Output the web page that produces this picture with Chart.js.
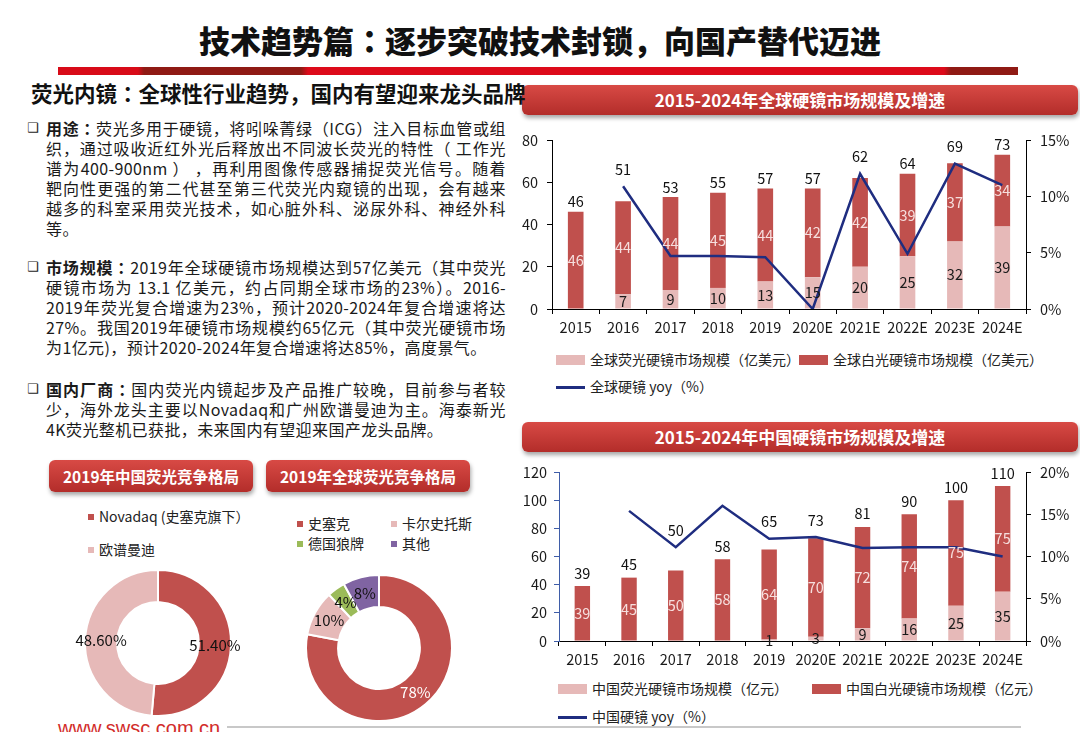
<!DOCTYPE html>
<html>
<head>
<meta charset="utf-8">
<script src="https://cdn.jsdelivr.net/npm/chart.js@4.4.1/dist/chart.umd.min.js"></script>
<style>
body { margin:0; width:1080px; height:732px; position:relative; overflow:hidden; background:#fff;
       font-family:"Noto Sans CJK SC","Noto Sans",sans-serif; color:#1a1a1a; }
.abs { position:absolute; }
.c { font-family:"Noto Sans CJK JP"; }
#title { left:0; top:20px; width:1080px; text-align:center; font-size:31px; font-weight:900; line-height:40px; color:#111; }
#redbar { left:58px; top:67px; width:960px; height:8px;
          background:linear-gradient(to right,#d80b18 0px,#d80b18 80px,#8f1a14 86px,#8f1a14 243px,#dd0a1a 250px,#dd0a1a 886px,#8f1a14 893px,#8f1a14 960px); }
#subtitle { left:31px; top:80px; font-size:21.5px; font-weight:bold; line-height:26px; color:#111; white-space:nowrap; z-index:2; }
.banner { position:absolute; color:#fff; font-weight:bold; text-align:center; border-radius:6px;
          background:linear-gradient(to bottom,#d84a45,#b32d2a); box-shadow:1px 3px 4px rgba(0,0,0,0.35); white-space:nowrap; }
.para { position:absolute; left:46px; font-size:16px; letter-spacing:0.4px; }
.ln { width:460px; height:20px; line-height:20px; text-align:justify; text-align-last:justify; }
.ln.last { text-align-last:left; }
.bullet { position:absolute; left:27px; font-family:"DejaVu Sans"; font-size:13px; font-weight:bold; line-height:20px; }
.legend { position:absolute; font-size:14px; line-height:18px; white-space:nowrap; color:#222; }
.legend .box { display:inline-block; width:29px; height:10px; vertical-align:middle; margin-right:5px; position:relative; top:-1px; }
.legend .ln2 { display:inline-block; width:29px; height:3px; vertical-align:middle; margin-right:5px; position:relative; top:-1px; }
.pleg { position:absolute; font-size:14px; line-height:18px; white-space:nowrap; color:#222; }
.pleg .sq { display:inline-block; width:6px; height:6px; vertical-align:middle; margin-right:5px; position:relative; top:-1px; }
canvas { position:absolute; }
</style>
</head>
<body>
<div id="title" class="abs">技术趋势篇<span class="c">：</span>逐步突破技术封锁，向国产替代迈进</div>
<div id="redbar" class="abs"></div>
<div id="subtitle" class="abs">荧光内镜<span class="c">：</span>全球性行业趋势，国内有望迎来龙头品牌</div>

<div class="bullet" style="top:118px">❑</div>
<div class="para" style="top:118px">
  <div class="ln"><b>用途<span class="c">：</span></b>荧光多用于硬镜，将吲哚菁绿（ICG）注入目标血管或组</div>
  <div class="ln">织，通过吸收近红外光后释放出不同波长荧光的特性（ 工作光</div>
  <div class="ln">谱为400-900nm ） ，再利用图像传感器捕捉荧光信号。随着</div>
  <div class="ln">靶向性更强的第二代甚至第三代荧光内窥镜的出现，会有越来</div>
  <div class="ln">越多的科室采用荧光技术，如心脏外科、泌尿外科、神经外科</div>
  <div class="ln last">等。</div>
</div>
<div class="bullet" style="top:257px">❑</div>
<div class="para" style="top:257px">
  <div class="ln"><b>市场规模<span class="c">：</span></b>2019年全球硬镜市场规模达到57亿美元（其中荧光</div>
  <div class="ln">硬镜市场为 13.1 亿美元，约占同期全球市场的23%）。2016-</div>
  <div class="ln">2019年荧光复合增速为23%，预计2020-2024年复合增速将达</div>
  <div class="ln">27%。我国2019年硬镜市场规模约65亿元（其中荧光硬镜市场</div>
  <div class="ln last">为1亿元)，预计2020-2024年复合增速将达85%，高度景气。</div>
</div>
<div class="bullet" style="top:379px">❑</div>
<div class="para" style="top:379px">
  <div class="ln"><b>国内厂商<span class="c">：</span></b>国内荧光内镜起步及产品推广较晚，目前参与者较</div>
  <div class="ln">少，海外龙头主要以Novadaq和广州欧谱曼迪为主。海泰新光</div>
  <div class="ln last">4K荧光整机已获批，未来国内有望迎来国产龙头品牌。</div>
</div>

<div class="banner" style="left:522px;top:85px;width:556px;height:30px;line-height:30px;font-size:17px">2015-2024年全球硬镜市场规模及增速</div>
<div class="banner" style="left:522px;top:422px;width:556px;height:30px;line-height:30px;font-size:17px">2015-2024年中国硬镜市场规模及增速</div>
<div class="banner" style="left:49px;top:460px;width:204px;height:32px;line-height:32px;font-size:15.5px">2019年中国荧光竞争格局</div>
<div class="banner" style="left:266px;top:460px;width:204px;height:32px;line-height:32px;font-size:15.5px">2019年全球荧光竞争格局</div>

<canvas id="globalChart" width="570" height="222" style="left:510px;top:118px"></canvas>
<canvas id="chinaChart" width="570" height="222" style="left:510px;top:450px"></canvas>
<canvas id="cnPie" width="240" height="148" style="left:38px;top:569px"></canvas>
<canvas id="globalPie" width="240" height="148" style="left:259px;top:574px"></canvas>

<div id="legGlobal"></div>
<div id="legChina"></div>
<div id="legCnPie"></div>
<div id="legGlobalPie"></div>

<div class="abs" style="left:227px;top:726px;width:794px;height:2px;background:#c8c8c8"></div>
<div class="abs" style="left:58px;top:718px;font-family:'Liberation Sans';font-size:20px;line-height:20px;color:#d22d2b">www.swsc.com.cn</div>

<script>
const years = ['2015', '2016', '2017', '2018', '2019', '2020E', '2021E', '2022E', '2023E', '2024E'];

// global market, 亿美元
const globalFluor = [null, 7, 9, 10, 13, 15, 20, 25, 32, 39];
const globalWhite = [46, 44, 44, 45, 44, 42, 42, 39, 37, 34];
const globalTotal = [46, 51, 53, 55, 57, 57, 62, 64, 69, 73];
const globalYoy = [null, 10.9, 4.7, 4.7, 4.6, 0.0, 12.0, 4.9, 12.9, 11.0];
const globalNames = ['全球荧光硬镜市场规模（亿美元）', '全球白光硬镜市场规模（亿美元）', '全球硬镜 yoy（%）'];

// china market, 亿元
const chinaFluor = [0, 0, 0, 0, 1, 3, 9, 16, 25, 35];
const chinaWhite = [39, 45, 50, 58, 64, 70, 72, 74, 75, 75];
const chinaTotal = [39, 45, 50, 58, 65, 73, 81, 90, 100, 110];
const chinaYoy = [null, 15.4, 11.1, 16.0, 12.1, 12.3, 11.0, 11.1, 11.1, 10.0];
const chinaNames = ['中国荧光硬镜市场规模（亿元）', '中国白光硬镜市场规模（亿元）', '中国硬镜 yoy（%）'];

const cnShareNames = ['Novadaq (史塞克旗下）', '欧谱曼迪'];
const cnShare = [51.4, 48.6];
const globalShareNames = ['史塞克', '卡尔史托斯', '德国狼牌', '其他'];
const globalShare = [78, 10, 4, 8];

const RED = '#c0504d';
const PINK = '#e6b9b8';
const NAVY = '#1f2d80';
const GREEN = '#9bbb59';
const PURPLE = '#8064a2';

Chart.defaults.font.family = '"Noto Sans CJK SC", "Noto Sans", sans-serif';
Chart.defaults.font.size = 14.5;
Chart.defaults.color = '#1a1a1a';
Chart.defaults.animation = false;

// value labels inside the bars and totals on top (pushed above the yoy line if they collide)
const barLabels = {
    id: 'barLabels',
    afterDatasetsDraw(chart, args, opts) {
        const ctx = chart.ctx;
        ctx.save();
        ctx.font = '14.5px "Noto Sans CJK SC"';
        ctx.textAlign = 'center';
        ctx.textBaseline = 'middle';
        chart.data.datasets.forEach((ds, i) => {
            if (ds.type === 'line') return;
            const meta = chart.getDatasetMeta(i);
            meta.data.forEach((bar, j) => {
                const v = ds.data[j];
                if (!v) return;
                ctx.fillStyle = ds.labelColor;
                ctx.fillText(v, bar.x, (bar.y + bar.base) / 2);
            });
        });
        const topMeta = chart.getDatasetMeta(1);
        const lineMeta = chart.getDatasetMeta(2);
        ctx.fillStyle = '#111';
        opts.totals.forEach((t, j) => {
            const bar = topMeta.data[j];
            let y = bar.y - opts.gap;
            const pt = lineMeta.data[j];
            if (pt && !pt.skip && Math.abs(y - pt.y) < 14) {
                y = Math.min(y, pt.y - 17);
            }
            ctx.fillText(t, bar.x, y);
        });
        ctx.restore();
    }
};

function marketChart(id, fluor, white, yoy, totals, names, yMax, y2Max, leftW, leftColor, leftPad, gap) {
    return new Chart(document.getElementById(id), {
        type: 'bar',
        data: {
            labels: years,
            datasets: [
                { label: names[0], data: fluor, backgroundColor: PINK, labelColor: '#1a1a1a',
                  barPercentage: 0.33, categoryPercentage: 1, order: 1 },
                { label: names[1], data: white, backgroundColor: RED, labelColor: '#f6dfde',
                  barPercentage: 0.33, categoryPercentage: 1, order: 1 },
                { type: 'line', label: names[2], data: yoy, yAxisID: 'y2', borderColor: NAVY,
                  borderWidth: 2.5, pointRadius: 0, tension: 0, order: 0 }
            ]
        },
        options: {
            responsive: false,
            layout: { padding: { top: 22 } },
            plugins: {
                legend: { display: false },
                tooltip: { enabled: false },
                barLabels: { totals: totals, gap: gap }
            },
            scales: {
                x: {
                    stacked: true,
                    grid: { drawOnChartArea: false, tickLength: 5, color: '#000', offset: true },
                    border: { color: '#000' },
                    ticks: { padding: 5, maxRotation: 0, autoSkip: false },
                    afterFit: s => { s.height = 31; }
                },
                y: {
                    stacked: true,
                    min: 0,
                    max: yMax,
                    ticks: { stepSize: 20, padding: leftPad },
                    grid: { drawOnChartArea: false, tickLength: 5, color: leftColor },
                    border: { color: leftColor },
                    afterFit: s => { s.width = leftW; }
                },
                y2: {
                    position: 'right',
                    min: 0,
                    max: y2Max,
                    ticks: { stepSize: 5, padding: 9, callback: v => v + '%' },
                    grid: { drawOnChartArea: false, tickLength: 5, color: '#000' },
                    border: { color: '#000' },
                    afterFit: s => { s.width = 54; }
                }
            }
        },
        plugins: [barLabels]
    });
}

marketChart('globalChart', globalFluor, globalWhite, globalYoy, globalTotal, globalNames, 80, 15, 42, '#000', 9, 10);
marketChart('chinaChart', chinaFluor, chinaWhite, chinaYoy, chinaTotal, chinaNames, 120, 20, 49, '#3f5da8', 7, 13);

// percentage labels on the doughnut slices
const pieLabels = {
    id: 'pieLabels',
    afterDatasetsDraw(chart, args, opts) {
        const ctx = chart.ctx;
        const ds = chart.data.datasets[0];
        ctx.save();
        ctx.font = '15px "Noto Sans CJK SC"';
        ctx.textAlign = 'center';
        ctx.textBaseline = 'middle';
        chart.getDatasetMeta(0).data.forEach((arc, i) => {
            const p = arc.tooltipPosition();
            ctx.fillStyle = opts.colors[i];
            ctx.fillText(opts.format(ds.data[i]), p.x, p.y);
        });
        ctx.restore();
    }
};

function shareChart(id, names, values, colors, textColors, format) {
    return new Chart(document.getElementById(id), {
        type: 'doughnut',
        data: {
            labels: names,
            datasets: [{ data: values, backgroundColor: colors, borderColor: '#fff', borderWidth: 2 }]
        },
        options: {
            responsive: false,
            cutout: '56%',
            plugins: {
                legend: { display: false },
                tooltip: { enabled: false },
                pieLabels: { colors: textColors, format: format }
            }
        },
        plugins: [pieLabels]
    });
}

shareChart('cnPie', cnShareNames, cnShare, [RED, PINK], ['#111', '#111'], v => v.toFixed(2) + '%');
shareChart('globalPie', globalShareNames, globalShare, [RED, PINK, GREEN, PURPLE],
    ['#fff', '#111', '#111', '#111'], v => v + '%');

// html legends
function barLegend(el, names, x1, x2, y1, y2) {
    el.innerHTML =
        `<div class="legend" style="left:${x1}px;top:${y1}px"><span class="box" style="background:${PINK}"></span>${names[0]}</div>` +
        `<div class="legend" style="left:${x2}px;top:${y1}px"><span class="box" style="background:${RED}"></span>${names[1]}</div>` +
        `<div class="legend" style="left:${x1}px;top:${y2}px"><span class="ln2" style="background:${NAVY}"></span>${names[2]}</div>`;
}
barLegend(document.getElementById('legGlobal'), globalNames, 556, 799, 350, 377);
barLegend(document.getElementById('legChina'), chinaNames, 558, 812, 679, 707);

document.getElementById('legCnPie').innerHTML =
    `<div class="pleg" style="left:88px;top:507px"><span class="sq" style="background:${RED}"></span>${cnShareNames[0]}</div>` +
    `<div class="pleg" style="left:88px;top:540px"><span class="sq" style="background:${PINK}"></span>${cnShareNames[1]}</div>`;

const gpColors = [RED, PINK, GREEN, PURPLE];
const gpPos = [[297, 514], [391, 514], [297, 534], [391, 534]];
document.getElementById('legGlobalPie').innerHTML = globalShareNames.map((n, i) =>
    `<div class="pleg" style="left:${gpPos[i][0]}px;top:${gpPos[i][1]}px"><span class="sq" style="background:${gpColors[i]}"></span>${n}</div>`
).join('');
</script>
</body>
</html>
